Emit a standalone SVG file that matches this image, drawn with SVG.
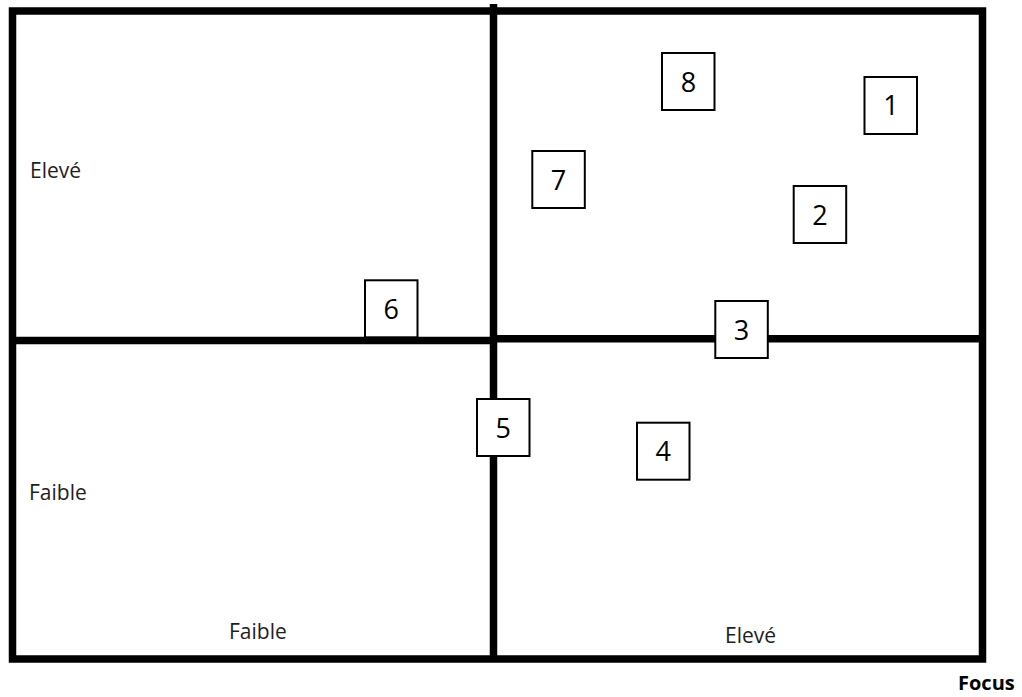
<svg xmlns="http://www.w3.org/2000/svg" width="1022" height="697" viewBox="0 0 1022 697">
  <style>
    .line { stroke: #000; stroke-width: 7.5; fill: none; }
    .box rect { fill: #fff; stroke: #000; stroke-width: 2; }
    .box text { font-family: "Open Sans", "Liberation Sans", sans-serif; font-size: 27px; fill: #000; text-anchor: middle; }
    .lbl { font-family: "Open Sans", "Liberation Sans", sans-serif; font-size: 21px; fill: #1e1e1e; }
    .focus { font-family: "Open Sans", "Liberation Sans", sans-serif; font-size: 20px; font-weight: bold; fill: #000; }
  </style>
  <rect width="1022" height="697" fill="#fff"/>
  <g id="grid">
    <rect class="line" x="12.5" y="11" width="970" height="648"/>
    <line class="line" x1="493.5" y1="4" x2="493.5" y2="660"/>
    <line class="line" x1="12" y1="340.5" x2="494" y2="340.5"/>
    <line class="line" x1="493" y1="338.7" x2="982" y2="338.7"/>
  </g>
  <g id="connectors"></g>
  <g id="labels">
    <text class="lbl" x="30" y="178">Elevé</text>
    <text class="lbl" x="29" y="500">Faible</text>
    <text class="lbl" x="229" y="639">Faible</text>
    <text class="lbl" x="725" y="643">Elevé</text>
    <text class="focus" x="958" y="690">Focus</text>
  </g>
  <g id="node8" class="box"><rect x="662" y="53" width="52.5" height="57"/><text x="688.5" y="91.5">8</text></g>
  <g id="node1" class="box"><rect x="864.5" y="77" width="52.5" height="57"/><text x="891" y="115">1</text></g>
  <g id="node7" class="box"><rect x="532.3" y="151" width="52.5" height="57"/><text x="558.5" y="189.5">7</text></g>
  <g id="node2" class="box"><rect x="793.7" y="186" width="52.5" height="57"/><text x="820" y="224.5">2</text></g>
  <g id="node6" class="box"><rect x="365" y="280.3" width="52.5" height="57"/><text x="391.3" y="319">6</text></g>
  <g id="node3" class="box"><rect x="715.3" y="301" width="52.5" height="57"/><text x="741.5" y="339.5">3</text></g>
  <g id="node5" class="box"><rect x="477" y="399" width="52.5" height="57"/><text x="503.3" y="437.5">5</text></g>
  <g id="node4" class="box"><rect x="637" y="422.7" width="52.5" height="57"/><text x="663.3" y="461">4</text></g>
</svg>
